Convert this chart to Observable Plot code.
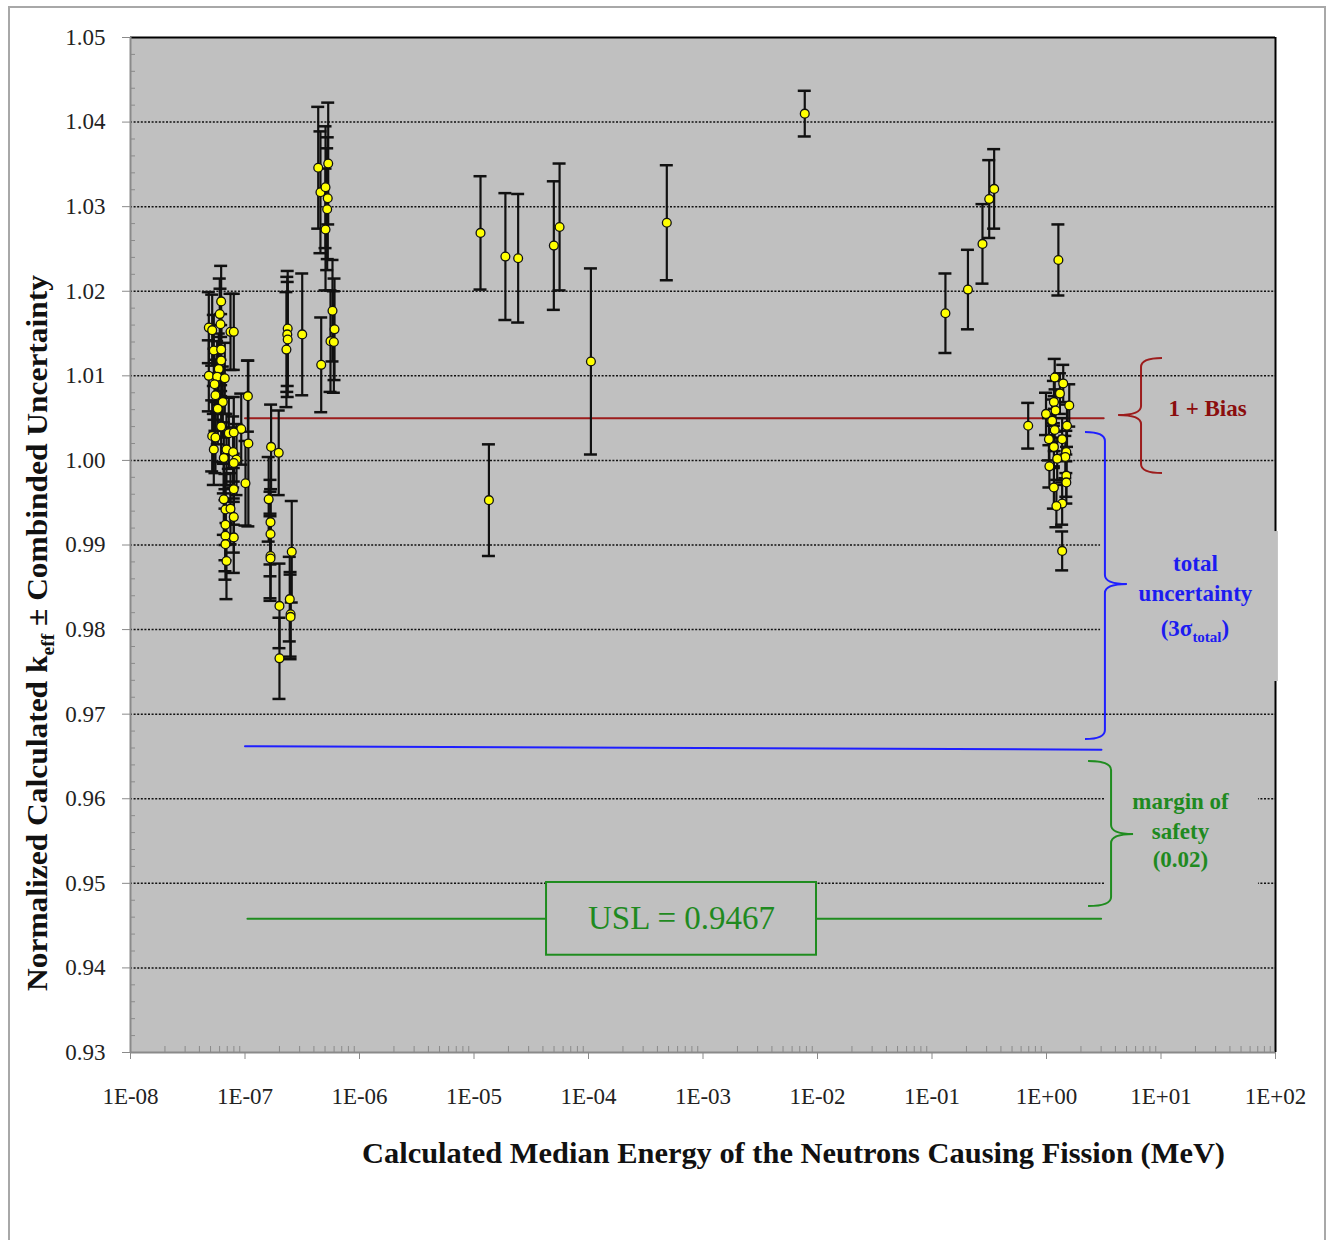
<!DOCTYPE html>
<html><head><meta charset="utf-8">
<script src="https://cdn.jsdelivr.net/npm/d3@7"></script>
<script src="https://cdn.jsdelivr.net/npm/@observablehq/plot@0.6"></script>
<style>
body{margin:0;background:#fff;}
#frame{position:absolute;left:8px;top:6px;width:1318px;height:1240px;border:2px solid #a8a8a8;border-bottom:none;box-sizing:border-box;}
#chart{position:absolute;left:0;top:0;}
</style></head><body>
<div id="frame"></div><div id="chart"></div>
<script>
// ---- data: median fission energy (MeV), normalized keff, combined uncertainty
const energy = [
 6.19e-8,6.02e-8,6.11e-8,4.83e-8,5.17e-8,7.47e-8,7.98e-8,5.34e-8,6.19e-8,6.19e-8,
 5.90e-8,4.83e-8,5.71e-8,6.66e-8,5.42e-8,1.06e-7,5.52e-8,6.40e-8,5.78e-8,6.19e-8,
 9.27e-8,5.17e-8,5.52e-8,7.22e-8,7.98e-8,1.07e-7,5.34e-8,6.89e-8,7.88e-8,6.53e-8,
 8.43e-8,7.98e-8,1.01e-7,7.98e-8,6.53e-8,6.75e-8,7.47e-8,7.98e-8,6.75e-8,7.98e-8,
 6.75e-8,6.75e-8,6.89e-8,
 1.69e-7,1.97e-7,1.61e-7,1.67e-7,1.67e-7,1.67e-7,1.67e-7,2.56e-7,2.00e-7,2.46e-7,
 2.50e-7,2.50e-7,2.00e-7,
 2.36e-7,2.34e-7,2.36e-7,2.30e-7,3.16e-7,4.63e-7,5.81e-7,6.05e-7,5.58e-7,5.97e-7,
 4.36e-7,5.33e-7,4.56e-7,5.05e-7,5.28e-7,5.22e-7,5.05e-7,
 1.14e-5,1.88e-5,2.43e-5,4.98e-5,5.59e-5,1.35e-5,1.05e-4,4.83e-4,7.74e-3,
 0.131,0.206,0.276,0.316,0.349,1.27,0.692,
 1.18,1.40,1.31,1.16,1.58,0.99,1.20,1.12,1.51,1.18,1.37,1.05,1.16,1.49,1.46,1.24,
 1.06,1.49,1.49,1.16,1.37,1.22,1.37
];
const keff = [
 1.0188,1.0173,1.0161,1.0157,1.0154,1.0152,1.0152,1.0130,1.0131,1.0118,
 1.0108,1.0100,1.0099,1.0097,1.0090,1.0076,1.0077,1.0069,1.0061,1.0040,
 1.0037,1.0029,1.0027,1.0032,1.0033,1.0020,1.0013,1.0013,1.0010,1.0003,
 1.0001,0.9997,0.9973,0.9966,0.9954,0.9942,0.9943,0.9933,0.9924,0.9909,
 0.9911,0.9901,0.9881,
 1.0016,1.0009,0.9954,0.9927,0.9913,0.9887,0.9884,0.9892,0.9828,0.9836,
 0.9818,0.9815,0.9766,
 1.0156,1.0149,1.0143,1.0131,1.0149,1.0113,1.0177,1.0155,1.0141,1.0140,
 1.0346,1.0351,1.0317,1.0323,1.0310,1.0297,1.0273,
 1.0269,1.0241,1.0239,1.0254,1.0276,0.9953,1.0117,1.0281,1.0410,
 1.0174,1.0202,1.0256,1.0309,1.0321,1.0237,1.0041,
 1.0098,1.0091,1.0079,1.0069,1.0065,1.0055,1.0059,1.0047,1.0041,1.0036,1.0025,1.0025,
 1.0016,1.0010,1.0004,1.0002,0.9993,0.9982,0.9974,0.9968,0.9949,0.9946,0.9893
];
const sigma = [
 0.0042,0.0042,0.0042,0.0042,0.0042,0.0045,0.0045,0.0042,0.0042,0.0042,
 0.0042,0.0042,0.0042,0.0042,0.0042,0.0042,0.0042,0.0042,0.0042,0.0042,
 0.0042,0.0042,0.0042,0.0042,0.0042,0.0098,0.0042,0.0042,0.0042,0.0042,
 0.0042,0.0042,0.0050,0.0042,0.0042,0.0042,0.0042,0.0042,0.0042,0.0042,
 0.0042,0.0042,0.0045,
 0.0050,0.0050,0.0050,0.0050,0.0050,0.0050,0.0050,0.0060,0.0050,0.0050,
 0.0050,0.0050,0.0048,
 0.0068,0.0068,0.0068,0.0068,0.0072,0.0056,0.0060,0.0060,0.0060,0.0060,
 0.0072,0.0072,0.0072,0.0072,0.0072,0.0072,0.0072,
 0.0067,0.0075,0.0076,0.0076,0.0075,0.0066,0.0110,0.0068,0.0027,
 0.0047,0.0047,0.0047,0.0046,0.0047,0.0042,0.0027,
 0.0022,0.0022,0.0024,0.0025,0.0025,0.0025,0.0025,0.0025,0.0025,0.0025,0.0025,0.0025,
 0.0025,0.0025,0.0025,0.0025,0.0025,0.0025,0.0025,0.0025,0.0025,0.0025,0.0023
];

// ---- axes
const yTicks = [0.93,0.94,0.95,0.96,0.97,0.98,0.99,1.00,1.01,1.02,1.03,1.04,1.05];
const yGrid = [0.94,0.95,0.96,0.97,0.98,0.99,1.00,1.01,1.02,1.03,1.04];
const xTicks = [1e-8,1e-7,1e-6,1e-5,1e-4,1e-3,1e-2,1e-1,1e0,1e1,1e2];
const xTickLabels = ["1E-08","1E-07","1E-06","1E-05","1E-04","1E-03","1E-02","1E-01","1E+00","1E+01","1E+02"];
const xTitle = "Calculated Median Energy of the Neutrons Causing Fission (MeV)";

// ---- annotations (data coordinates)
const biasLineE = [1e-7, 3.16], biasLineK = [1.005, 1.005];
const uncLineE = [1e-7, 3.02], uncLineK = [0.9662, 0.9658];
const uslLineE = [1.05e-7, 3.0], uslLineK = [0.9458, 0.9458];
const uslBox = {x1: 4.3e-5, x2: 9.8e-3, y1: 0.9415, y2: 0.9501};
const uslLabel = {e: 6.49e-4, k: 0.9458, text: "USL = 0.9467"};
const coverX1 = [2.97, 3.21], coverX2 = [106, 71], coverY1 = [0.97386, 0.94962], coverY2 = [0.99159, 0.96357];
const labelText = ["1 + Bias", "total", "uncertainty", "margin of", "safety", "(0.02)"];
const labelE = [25.5, 20, 20, 14.8, 14.8, 14.8];
const labelK = [1.00614, 0.98781, 0.98426, 0.95967, 0.95612, 0.95281];
const labelColor = ["#8b0d0d", "#1c1cf0", "#1c1cf0", "#1f8a1f", "#1f8a1f", "#1f8a1f"];
// braces: ends, spine, tip (energy); top, tip, bottom (keff)
const braceEnd = [10.3, 2.19, 2.33], braceSpine = [6.76, 3.27, 3.70], braceTip = [4.26, 5.09, 5.76];
const braceTop = [1.01205, 1.00330, 0.96440], braceMid = [1.00531, 0.98533, 0.95577], braceBot = [0.99845, 0.96700, 0.94726];
const braceColor = ["#9c1c1c", "#1f1fff", "#1f8c1f"];

const serif = "'Liberation Serif','Times New Roman',serif";
const W = 1330, H = 1240, mL = 130, mR = 55, mT = 37, mB = 188;
const plotW = W - mL - mR, plotH = H - mT - mB;
const points = energy.map((e, i) => ({e, k: keff[i], u: sigma[i]}));
const capF = Math.pow(10, 6.5 / 114.5);
const minorY = d3.range(930, 1051, 2).filter(v => v % 10 !== 0).map(v => v / 1000);
const minorX = [];
for (let p = -8; p < 2; p++) for (let m = 2; m < 10; m++) minorX.push(m * Math.pow(10, p));
const covers = coverX1.map((x, i) => ({x1: x, x2: coverX2[i], y1: coverY1[i], y2: coverY2[i]}));
const labels = labelText.map((t, i) => ({t, e: labelE[i], k: labelK[i], c: labelColor[i]}));
const pairs = (a, b) => a.map((v, i) => [v, b[i]]);

const plot = Plot.plot({
  width: W, height: H, marginLeft: mL, marginRight: mR, marginTop: mT, marginBottom: mB,
  style: {fontFamily: serif, background: "transparent", overflow: "visible"},
  x: {type: "log", domain: [1e-8, 1e2]},
  y: {domain: [0.93, 1.05]},
  marks: [
    Plot.frame({fill: "#c0c0c0", stroke: null}),
    Plot.ruleY(yGrid, {stroke: "#111", strokeDasharray: "2,1.6", strokeWidth: 1.5}),
    Plot.ruleY([1.05], {stroke: "#000", strokeWidth: 2}),
    Plot.ruleX([1e2], {stroke: "#000", strokeWidth: 2}),
    Plot.rect(covers, {x1: "x1", x2: "x2", y1: "y1", y2: "y2", fill: "#c0c0c0"}),
    Plot.ruleX([1e-8], {stroke: "#8a8a8a", strokeWidth: 2}),
    Plot.ruleY([0.93], {stroke: "#8a8a8a", strokeWidth: 2}),
    Plot.tickX(minorX, {x: d => d, insetTop: plotH - 6, stroke: "#8a8a8a", strokeWidth: 1}),
    Plot.tickY(minorY, {y: d => d, insetRight: plotW - 5, stroke: "#8a8a8a", strokeWidth: 1}),
    Plot.line(pairs(biasLineE, biasLineK), {stroke: "#9c1c1c", strokeWidth: 2}),
    Plot.line(pairs(uncLineE, uncLineK), {stroke: "#1f1fff", strokeWidth: 2}),
    Plot.line(pairs(uslLineE, uslLineK), {stroke: "#1f8c1f", strokeWidth: 2}),
    Plot.rect([uslBox], {x1: "x1", x2: "x2", y1: "y1", y2: "y2", fill: "#c0c0c0", stroke: "#1f8c1f", strokeWidth: 2}),
    Plot.ruleX(points, {x: "e", y1: d => d.k - d.u, y2: d => d.k + d.u, stroke: "#111", strokeWidth: 2.2}),
    Plot.ruleY(points, {y: d => d.k + d.u, x1: d => d.e / capF, x2: d => d.e * capF, stroke: "#111", strokeWidth: 2.5}),
    Plot.ruleY(points, {y: d => d.k - d.u, x1: d => d.e / capF, x2: d => d.e * capF, stroke: "#111", strokeWidth: 2.5}),
    Plot.dot(points, {x: "e", y: "k", r: 4.4, fill: "#ffff00", stroke: "#111", strokeWidth: 1.3}),
    Plot.axisY({ticks: yTicks, tickFormat: d3.format(".2f"), tickSize: 8, tickPadding: 17, stroke: "#8a8a8a", fill: "#222", fontSize: 23, label: null}),
    Plot.axisX({ticks: xTicks, tickFormat: d => xTickLabels[Math.round(Math.log10(d)) + 8], tickSize: 7, tickPadding: 28, stroke: "#8a8a8a", fill: "#222", fontSize: 23, label: null}),
    Plot.text(labels, {x: "e", y: "k", text: "t", fill: "c", fontWeight: "bold", fontSize: 23}),
    Plot.text([uslLabel], {x: "e", y: "k", text: "text", fill: "#1f8a1f", fontSize: 33})
  ]
});
document.getElementById("chart").appendChild(plot);

// braces and subscripted texts, placed through the plot's scales
const sx = plot.scale("x"), sy = plot.scale("y");
const X = v => sx.apply(v), Y = v => sy.apply(v);
const svg = d3.select(plot);
braceEnd.forEach((_, i) => {
  const ex = X(braceEnd[i]), s = X(braceSpine[i]), t = X(braceTip[i]);
  const y0 = Y(braceTop[i]), ym = Y(braceMid[i]), y1 = Y(braceBot[i]), r = 9;
  const d = `M${ex},${y0} Q${s},${y0} ${s},${y0 + r} L${s},${ym - r} Q${s},${ym} ${t},${ym} Q${s},${ym} ${s},${ym + r} L${s},${y1 - r} Q${s},${y1} ${ex},${y1}`;
  svg.append("path").attr("d", d).attr("fill", "none").attr("stroke", braceColor[i]).attr("stroke-width", 2);
});
// (3σ_total)
const sig = svg.append("text").attr("x", X(20)).attr("y", Y(0.98013)).attr("dy", "0.35em")
  .attr("text-anchor", "middle").attr("fill", "#1c1cf0").attr("font-weight", "bold")
  .attr("font-size", 23).attr("font-family", serif);
sig.append("tspan").text("(3σ");
sig.append("tspan").attr("font-size", 15).attr("dy", 6).text("total");
sig.append("tspan").attr("dy", -6).text(")");
// x title
svg.append("text").attr("x", 793.5).attr("y", 1163).attr("text-anchor", "middle")
  .attr("fill", "#111").attr("font-weight", "bold").attr("font-size", 29).attr("font-family", serif)
  .attr("textLength", 863).attr("lengthAdjust", "spacingAndGlyphs").text(xTitle);
// y title
const yt = svg.append("text").attr("transform", `translate(47,633) rotate(-90)`)
  .attr("text-anchor", "middle").attr("fill", "#111").attr("font-weight", "bold")
  .attr("font-size", 29).attr("font-family", serif)
  .attr("textLength", 716).attr("lengthAdjust", "spacingAndGlyphs");
yt.append("tspan").text("Normalized Calculated k");
yt.append("tspan").attr("font-size", 18).attr("dy", 7).text("eff");
yt.append("tspan").attr("dy", -7).text(" ± Combinded Uncertainty");
</script></body></html>
